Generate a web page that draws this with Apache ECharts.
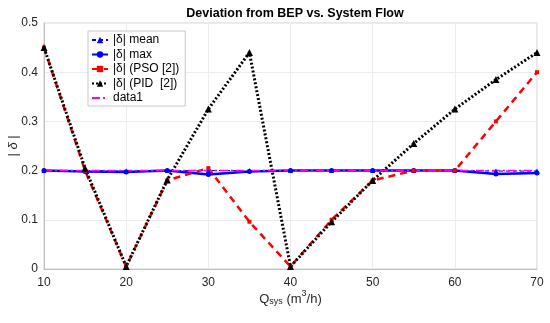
<!DOCTYPE html>
<html><head><meta charset="utf-8">
<script src="https://cdn.jsdelivr.net/npm/echarts@6/dist/echarts.min.js"></script>
<style>html,body{margin:0;padding:0;background:#fff}#c{width:550px;height:323px}</style>
</head><body><div id="c"></div>
<script>
const flows = [10,15,20,25,30,35,40,45,50,55,60,65,70];
const deltaMean = [0.2,0.2,0.199,0.2,0.2,0.2,0.2,0.2,0.2,0.2,0.2,0.199,0.199];
const deltaMax = [0.2,0.198,0.197,0.2,0.192,0.198,0.2,0.2,0.2,0.2,0.2,0.193,0.195];
const deltaPSO = [0.45,0.2,0.005,0.18,0.205,0.096,0.005,0.1,0.18,0.2,0.2,0.3,0.4];
const deltaPID = [0.45,0.205,0.005,0.181,0.325,0.44,0.005,0.096,0.18,0.255,0.325,0.385,0.44];
const data1 = [0.2,0.2,0.2,0.2,0.2,0.2,0.2,0.2,0.2,0.2,0.2,0.2,0.2];
const yTicks = [0,0.1,0.2,0.3,0.4,0.5];
const xTicks = [10,20,30,40,50,60,70];

const pair = a => flows.map((x,i)=>[x,a[i]]);
const font = 'Liberation Sans, Arial, sans-serif';
const chart = echarts.init(document.getElementById('c'));
chart.setOption({
  animation:false,
  textStyle:{fontFamily:font},
  title:{text:'Deviation from BEP vs. System Flow',left:290,textAlign:'center',top:2,
    textStyle:{fontSize:12.5,fontWeight:'bold',color:'#000',fontFamily:font}},
  grid:{left:44,right:13,top:23,bottom:54,show:true,borderColor:'#d0d0d0',borderWidth:1,
    containLabel:false,outerBoundsMode:'none'},
  legend:{orient:'vertical',left:88,top:31,itemGap:2.5,itemWidth:16,itemHeight:8,
    padding:[3,6,2,3],borderColor:'#c8c8c8',borderWidth:1,backgroundColor:'#fff',
    textStyle:{fontSize:12,color:'#000',fontFamily:font},
    data:['|δ| mean','|δ| max','|δ| (PSO [2])','|δ| (PID  [2])',{name:'data1',itemStyle:{opacity:0}}]},
  xAxis:{type:'value',min:10,max:70,interval:10,
    axisLine:{show:true,lineStyle:{color:'#c0c0c0'}},axisTick:{show:false},
    splitLine:{show:true,lineStyle:{color:'#ececec'}},
    axisLabel:{color:'#262626',fontSize:12,margin:8,formatter:v=>xTicks.includes(v)?String(v):''},
    name:'{n|Q}{s|sys}{n| (m}{p|3}{n|/h)}',nameLocation:'middle',nameGap:21,nameMoveOverlap:false,
    nameTextStyle:{rich:{n:{fontSize:13,color:'#262626',fontFamily:font,verticalAlign:'bottom',lineHeight:16},
      s:{fontSize:9,color:'#262626',fontFamily:font,padding:[8,0,0,0],verticalAlign:'bottom',lineHeight:16},
      p:{fontSize:9,color:'#262626',fontFamily:font,padding:[0,0,8,0],verticalAlign:'bottom',lineHeight:16}}}},
  yAxis:{type:'value',min:0,max:0.5,interval:0.1,
    axisLine:{show:true,lineStyle:{color:'#c0c0c0'}},axisTick:{show:false},
    splitLine:{show:true,lineStyle:{color:'#ececec'}},
    axisLabel:{color:'#262626',fontSize:12,margin:6,formatter:v=>{const t=yTicks.find(k=>Math.abs(k-v)<1e-9);return t===undefined?'':String(t);}},
    name:'{n|| }{i|δ}{n| |}',nameLocation:'middle',nameGap:24,nameRotate:90,nameMoveOverlap:false,
    nameTextStyle:{rich:{n:{fontSize:13,color:'#262626',fontFamily:font},i:{fontSize:13,fontStyle:'italic',color:'#262626',fontFamily:font}}}},
  series:[
    {name:'|δ| mean',type:'line',data:pair(deltaMean),symbol:'triangle',symbolSize:5,
      lineStyle:{color:'#0000ff',width:1,type:[4,3]},itemStyle:{color:'#0000ff'}},
    {name:'|δ| max',type:'line',data:pair(deltaMax),symbol:'circle',symbolSize:5,
      lineStyle:{color:'#0000ff',width:2.5},itemStyle:{color:'#0000ff'}},
    {name:'|δ| (PSO [2])',type:'line',data:pair(deltaPSO),symbol:'rect',symbolSize:4,
      lineStyle:{color:'#ff0000',width:2.5,type:[7,5]},itemStyle:{color:'#ff0000'}},
    {name:'|δ| (PID  [2])',type:'line',data:pair(deltaPID),symbol:'triangle',symbolSize:7,
      lineStyle:{color:'#000000',width:3,type:[2,2]},itemStyle:{color:'#000000'}},
    {name:'data1',type:'line',data:pair(data1).map((p,i)=>i===flows.length-1?{value:p,
        label:{show:true,position:'top',offset:[-8,0],formatter:'{e|ε}{s|max}',
          rich:{e:{fontSize:6,color:'#ff00ff'},s:{fontSize:4,color:'#ff00ff',padding:[3,0,0,0]}}}}:p),
      symbol:'none',lineStyle:{color:'#ff00ff',width:1.5,type:[8,3,2,3]},itemStyle:{color:'#ff00ff'}}
  ]
});
</script></body></html>
